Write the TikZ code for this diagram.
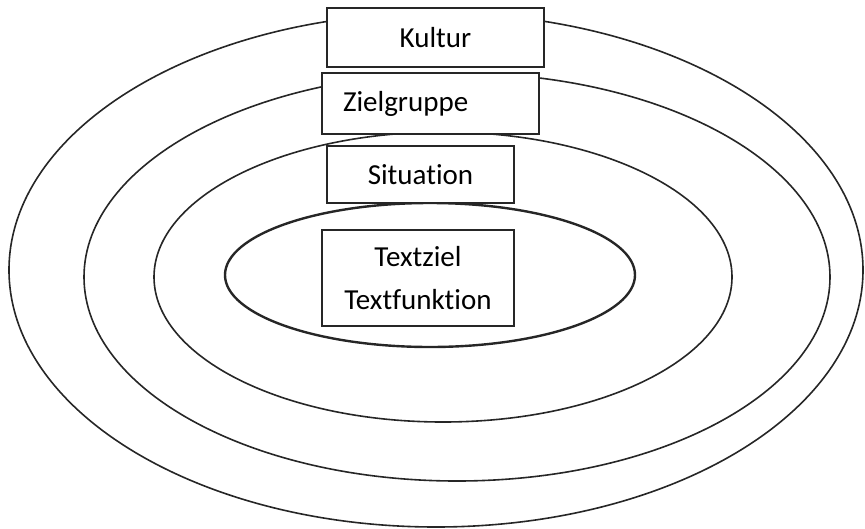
\documentclass[tikz,border=0pt]{standalone}
\usepackage{fontspec}
\setmainfont{Carlito}[Ligatures=NoCommon]
\usetikzlibrary{positioning}

\tikzset{
  ring/.style={line width=1.6pt, black!85},
  corering/.style={line width=2.4pt, black!85},
  labelbox/.style={draw=black!85, line width=1.8pt, fill=white, rectangle,
    inner sep=0pt, font=\fontsize{29}{43}\selectfont}
}

\begin{document}
\begin{tikzpicture}[x=1pt, y=-1pt]

\useasboundingbox (0,0) rectangle (865,528);

% ================= RINGS =================
\draw[ring] (436,270) ellipse [x radius=427, y radius=257];
\draw[ring] (457,277) ellipse [x radius=373, y radius=204];
\draw[ring] (443,277) ellipse [x radius=289, y radius=145];
\draw[corering] (430,275) ellipse [x radius=205, y radius=72];

% ================= LABELS =================
\node[labelbox, minimum width=217pt, minimum height=59pt] (kultur) at (435.5,37.5) {Kultur};
\node[labelbox, minimum width=217pt, minimum height=61pt, text width=175pt,
      align=left, inner xsep=21pt] (zielgruppe) at (430.5,103.5) {Zielgruppe};
\node[labelbox, minimum width=187pt, minimum height=57pt] (situation) at (420.5,174.5) {Situation};
\node[labelbox, minimum width=192pt, minimum height=96pt, align=center] (textziel) at (418,278)
  {Textziel\\Textfunktion};

\end{tikzpicture}
\end{document}
